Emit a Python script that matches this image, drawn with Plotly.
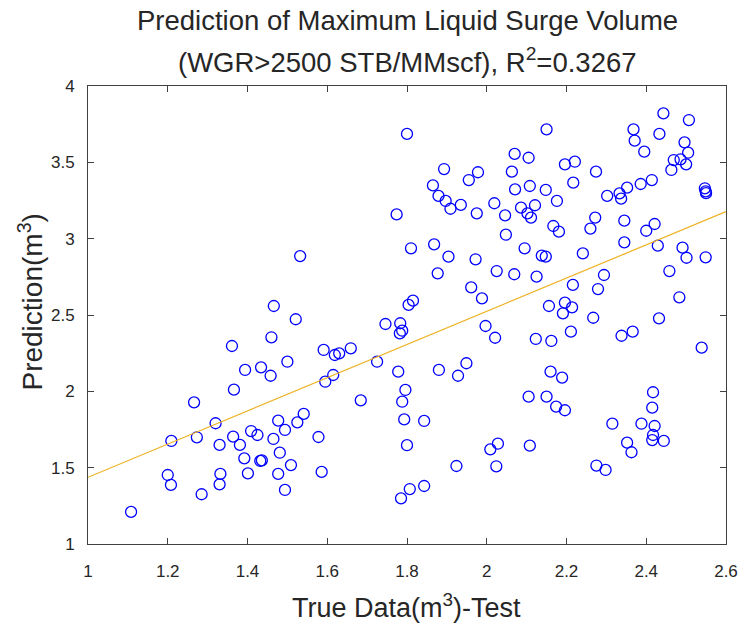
import plotly.graph_objects as go

# True data (x) and prediction (y)
true_data = [
    1.800, 1.893, 1.978, 1.955, 1.865, 1.879, 1.897, 1.909, 1.935, 1.774,
    1.975, 2.019, 2.046, 2.048, 2.070, 2.105, 2.150, 2.063, 2.196, 2.221,
    2.274, 2.071, 2.108, 2.148, 2.217, 2.176, 2.086, 2.121, 2.102, 2.111,
    2.167, 2.181, 2.260, 2.272, 2.302, 2.333, 2.337, 2.352, 2.386, 2.414,
    2.368, 2.371, 2.395, 2.433, 2.443, 2.507, 2.496, 2.505, 2.469, 2.486,
    2.500, 2.463, 2.547, 2.549, 2.550, 2.345, 2.421, 2.400,
    2.095, 2.138, 2.148, 2.241, 2.345, 2.429, 2.491, 2.501, 2.549, 2.069,
    2.125, 2.216, 2.294, 2.279, 2.458, 2.483, 2.156, 2.196, 2.214, 2.191,
    2.267, 2.432, 2.123, 2.162, 2.211, 2.338, 2.366, 2.539, 2.160, 2.189,
    2.105, 2.150, 2.174, 2.196, 2.108, 2.315, 2.417, 2.415, 2.388, 2.421,
    2.417, 2.415, 2.444, 2.352, 2.363, 2.275, 2.298,
    1.684, 1.796, 1.788, 1.793, 1.843, 1.578, 1.586, 1.800, 1.924, 1.807,
    1.785, 1.843, 2.009, 2.028, 2.024,
    1.366, 1.266, 1.320, 1.209, 1.273, 1.330, 1.364, 1.381, 1.409, 1.425,
    1.392, 1.432, 1.436, 1.465, 1.477, 1.494, 1.481, 1.509, 1.477, 1.494,
    1.525, 1.541, 1.401, 1.332, 1.330, 1.200, 1.208, 1.285, 1.108,
    1.532, 1.466, 1.521, 1.460, 1.361, 1.500, 1.394, 1.434, 1.458,
    1.810, 1.868, 1.904, 1.877, 1.972, 2.025, 1.961, 1.988, 1.804, 1.815,
    1.746, 1.783, 1.788, 1.782, 1.997, 2.021, 1.591, 1.619, 1.630, 1.659,
    1.725, 1.615, 1.595, 1.778, 1.880, 1.949, 1.928,
]
prediction = [
    3.686, 3.456, 3.435, 3.384, 3.349, 3.280, 3.247, 3.196, 3.221, 3.159,
    3.166, 3.232, 3.153, 3.026, 3.555, 3.530, 3.716, 3.439, 3.487, 3.504,
    3.439, 3.323, 3.345, 3.319, 3.367, 3.247, 3.203, 3.219, 3.166, 3.138,
    3.083, 3.046, 3.066, 3.138, 3.280, 3.297, 3.262, 3.334, 3.358, 3.384,
    3.716, 3.642, 3.570, 3.686, 3.821, 3.777, 3.631, 3.563, 3.515, 3.520,
    3.487, 3.450, 3.330, 3.310, 3.298, 3.118, 3.096, 3.052,
    2.937, 2.889, 2.882, 2.904, 2.976, 2.954, 2.941, 2.875, 2.878, 2.767,
    2.751, 2.697, 2.762, 2.670, 2.788, 2.616, 2.559, 2.581, 2.550, 2.511,
    2.482, 2.478, 2.343, 2.330, 2.391, 2.364, 2.391, 2.286, 2.129, 2.090,
    1.965, 1.965, 1.900, 1.876, 1.644, 1.788, 1.994, 1.893, 1.788, 1.773,
    1.714, 1.681, 1.675, 1.664, 1.601, 1.514, 1.485,
    1.941, 2.009, 1.932, 1.816, 1.806, 1.701, 1.472, 1.647, 1.511, 1.360,
    1.299, 1.380, 1.620, 1.657, 1.509,
    2.011, 1.928, 1.791, 1.675, 1.699, 1.649, 1.703, 1.649, 1.740, 1.714,
    1.561, 1.544, 1.548, 1.688, 1.808, 1.747, 1.598, 1.517, 1.459, 1.354,
    1.797, 1.852, 1.463, 1.459, 1.391, 1.452, 1.387, 1.326, 1.210,
    2.886, 2.559, 2.472, 2.354, 2.297, 2.194, 2.140, 2.157, 2.102,
    2.937, 2.963, 2.882, 2.773, 2.865, 2.788, 2.681, 2.609, 2.566, 2.594,
    2.441, 2.446, 2.397, 2.380, 2.428, 2.351, 2.271, 2.238, 2.249, 2.282,
    2.194, 2.107, 2.063, 2.129, 2.140, 2.184, 2.102,
]

# Fitted line end points
fit_x = [1.0, 2.6]
fit_y = [1.437, 3.177]

x_ticks = [1, 1.2, 1.4, 1.6, 1.8, 2, 2.2, 2.4, 2.6]
x_tick_text = ["1", "1.2", "1.4", "1.6", "1.8", "2", "2.2", "2.4", "2.6"]
y_ticks = [1, 1.5, 2, 2.5, 3, 3.5, 4]
y_tick_text = ["1", "1.5", "2", "2.5", "3", "3.5", "4"]

title_line1 = "Prediction of Maximum Liquid Surge Volume"
title_line2 = "(WGR>2500 STB/MMscf), R<sup>2</sup>=0.3267"
x_label = "True Data(m<sup>3</sup>)-Test"
y_label = "Prediction(m<sup>3</sup>)"

FONT = "Liberation Sans, Arial, sans-serif"
TXT = "#262626"
AX = "#404040"

fig = go.Figure()
fig.add_trace(go.Scatter(
    x=true_data, y=prediction, mode="markers",
    marker=dict(symbol="circle-open", size=11, color="#0000FF",
                line=dict(width=1.3, color="#0000FF")),
    showlegend=False, hoverinfo="skip"))
fig.add_trace(go.Scatter(
    x=fit_x, y=fit_y, mode="lines",
    line=dict(color="#EDB120", width=1.2),
    showlegend=False, hoverinfo="skip"))

axis_common = dict(
    showgrid=False, zeroline=False, showline=True, mirror="ticks",
    linecolor=AX, linewidth=1, ticks="inside", ticklen=6, tickwidth=1,
    tickcolor=AX, tickfont=dict(family=FONT, size=17, color=TXT),
)
fig.update_xaxes(range=[1, 2.6], tickvals=x_ticks, ticktext=x_tick_text,
                 ticklabelstandoff=12, **axis_common)
fig.update_yaxes(range=[1, 4], tickvals=y_ticks, ticktext=y_tick_text,
                 ticklabelstandoff=9, **axis_common)

# plot area in pixels
plot_l, plot_r, plot_t, plot_b = 88, 732, 86, 544
pw, ph = plot_r - plot_l, plot_b - plot_t


def px_to_paper(px, py):
    return (px - plot_l) / pw, (plot_b - py) / ph


texts = [
    (title_line1, 410, 21, 27.5, 0),
    (title_line2, 410, 61, 27.5, 0),
    (x_label, 409, 606, 27, 0),
    (y_label, 30, 302, 28, -90),
]
anns = []
for text, px, py, size, angle in texts:
    xx, yy = px_to_paper(px, py)
    anns.append(dict(text=text, x=xx, y=yy, xref="paper", yref="paper",
                     xanchor="center", yanchor="middle", showarrow=False,
                     textangle=angle,
                     font=dict(size=size, color=TXT, family=FONT)))

fig.update_layout(
    width=750, height=627,
    margin=dict(l=plot_l, r=750 - plot_r, t=plot_t, b=627 - plot_b),
    plot_bgcolor="white", paper_bgcolor="white",
    font=dict(family=FONT, color=TXT),
    annotations=anns,
)

fig.write_html("out.html")
